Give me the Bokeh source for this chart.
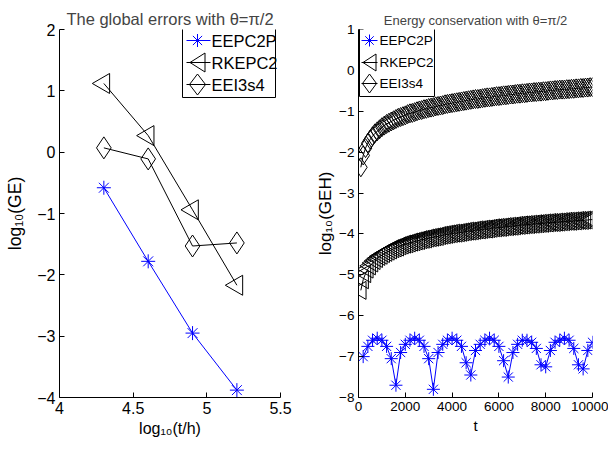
import math
from bokeh.plotting import figure
from bokeh.layouts import row
from bokeh.models import FixedTicker, Range1d, BoxAnnotation, PolyAnnotation, Label
from bokeh.embed import file_html
from bokeh.resources import INLINE

# ---------------- data: left panel ----------------
log_t_h = [4.301, 4.602, 4.903, 5.204]
ge_eepc2p = [-0.58, -1.78, -2.95, -3.88]
ge_rkepc2 = [1.12, 0.27, -0.94, -2.17]
ge_eei3s4 = [0.07, -0.11, -1.53, -1.48]

left_xticks = [4, 4.5, 5, 5.5]
left_xlabels = ["4", "4.5", "5", "5.5"]
left_yticks = [-4, -3, -2, -1, 0, 1, 2]
left_ylabels = ["\u22124", "\u22123", "\u22122", "\u22121", "0", "1", "2"]

# ---------------- data: right panel ----------------
t_eepc2p = list(range(200, 10001, 200))
geh_eepc2p = [-7.00, -6.75, -6.60, -6.55, -6.60, -6.75, -7.05, -7.70,
              -6.90, -6.70, -6.60, -6.55, -6.60, -6.75, -7.05, -7.80,
              -6.90, -6.70, -6.60, -6.55, -6.60, -6.75, -7.15, -7.45,
              -6.85, -6.70, -6.60, -6.55, -6.60, -6.75, -7.10, -7.50,
              -6.90, -6.70, -6.60, -6.60, -6.65, -6.80, -7.20, -7.25,
              -6.85, -6.65, -6.60, -6.55, -6.60, -6.80, -7.20, -7.30,
              -6.85, -6.65]

t_dense = list(range(100, 10001, 100))
geh_rkepc2 = [-5.38, -5.12, -4.97, -4.86, -4.78, -4.71, -4.65, -4.60, -4.55, -4.52,
              -4.48, -4.45, -4.42, -4.39, -4.36, -4.34, -4.32, -4.29, -4.27, -4.25,
              -4.24, -4.22, -4.20, -4.19, -4.17, -4.16, -4.14, -4.13, -4.12, -4.10,
              -4.09, -4.08, -4.07, -4.06, -4.04, -4.03, -4.02, -4.01, -4.00, -3.99,
              -3.98, -3.98, -3.97, -3.96, -3.95, -3.94, -3.93, -3.93, -3.92, -3.91,
              -3.90, -3.90, -3.89, -3.88, -3.88, -3.87, -3.86, -3.85, -3.85, -3.84,
              -3.84, -3.83, -3.82, -3.82, -3.81, -3.81, -3.80, -3.79, -3.79, -3.78,
              -3.78, -3.77, -3.77, -3.76, -3.76, -3.75, -3.75, -3.74, -3.74, -3.73,
              -3.73, -3.72, -3.72, -3.72, -3.71, -3.71, -3.70, -3.70, -3.69, -3.69,
              -3.69, -3.68, -3.68, -3.67, -3.67, -3.67, -3.66, -3.66, -3.65, -3.65]
geh_eei3s4 = [-2.37, -2.08, -1.90, -1.78, -1.69, -1.61, -1.54, -1.49, -1.44, -1.39,
              -1.35, -1.31, -1.28, -1.25, -1.22, -1.19, -1.16, -1.14, -1.12, -1.10,
              -1.07, -1.05, -1.04, -1.02, -1.00, -0.98, -0.97, -0.95, -0.94, -0.92,
              -0.91, -0.90, -0.88, -0.87, -0.86, -0.85, -0.83, -0.82, -0.81, -0.80,
              -0.79, -0.78, -0.77, -0.76, -0.75, -0.74, -0.73, -0.72, -0.71, -0.70,
              -0.70, -0.69, -0.68, -0.67, -0.66, -0.66, -0.65, -0.64, -0.63, -0.63,
              -0.62, -0.61, -0.61, -0.60, -0.59, -0.59, -0.58, -0.57, -0.57, -0.56,
              -0.56, -0.55, -0.54, -0.54, -0.53, -0.53, -0.52, -0.52, -0.51, -0.51,
              -0.50, -0.49, -0.49, -0.48, -0.48, -0.47, -0.47, -0.47, -0.46, -0.46,
              -0.45, -0.45, -0.44, -0.44, -0.43, -0.43, -0.42, -0.42, -0.41, -0.41]

right_xticks = [0, 2000, 4000, 6000, 8000, 10000]
right_xlabels = ["0", "2000", "4000", "6000", "8000", "10000"]
right_yticks = [-8, -7, -6, -5, -4, -3, -2, -1, 0, 1]
right_ylabels = ["\u22128", "\u22127", "\u22126", "\u22125", "\u22124", "\u22123",
                 "\u22122", "\u22121", "0", "1"]

series_names = ["EEPC2P", "RKEPC2", "EEI3s4"]

BLUE = "#0000ff"
FONT = "Liberation Sans"


def style_axes(p, tick_size, xlabel_size, ylabel_size, xticks, xlabels, yticks, ylabels,
               ylabel_standoff):
    p.xaxis.ticker = FixedTicker(ticks=xticks)
    p.yaxis.ticker = FixedTicker(ticks=yticks)
    p.xaxis.major_label_overrides = {float(k): v for k, v in zip(xticks, xlabels)}
    p.yaxis.major_label_overrides = {float(k): v for k, v in zip(yticks, ylabels)}
    for ax in (p.xaxis[0], p.yaxis[0]):
        ax.major_tick_in = 5
        ax.major_tick_out = 0
        ax.minor_tick_line_color = None
        ax.axis_line_color = "black"
        ax.major_tick_line_color = "black"
        ax.major_label_text_font = FONT
        ax.major_label_text_font_size = tick_size
        ax.major_label_text_color = "black"
        ax.axis_label_text_font = FONT
        ax.axis_label_text_font_style = "normal"
        ax.axis_label_text_color = "black"
        ax.major_label_standoff = 4
    p.xaxis[0].axis_label_text_font_size = xlabel_size
    p.yaxis[0].axis_label_text_font_size = ylabel_size
    p.xaxis[0].axis_label_standoff = 3
    p.yaxis[0].axis_label_standoff = ylabel_standoff
    p.grid.visible = False
    p.outline_line_color = None
    p.background_fill_color = "white"
    p.border_fill_color = "white"


def marker_shapes(kind, w, h):
    """pixel-offset polylines for a legend symbol"""
    if kind == "asterisk":
        r = w / 2.0
        d = r * 0.707
        return [[(-r, 0), (r, 0)], [(0, -r), (0, r)], [(-d, -d), (d, d)], [(-d, d), (d, -d)]]
    if kind == "left_triangle":
        return [[(-w / 2.0, 0), (w / 2.0, -h / 2.0), (w / 2.0, h / 2.0)]]
    if kind == "diamond":
        return [[(0, -h / 2.0), (w / 2.0, 0), (0, h / 2.0), (-w / 2.0, 0)]]
    return []


def add_legend(p, fw, fh, box, rows, line_x, glyph_cx, text_x, font_size, entries):
    xr, yr = p.x_range, p.y_range
    fx = lambda dx: xr.start + dx * (xr.end - xr.start) / fw
    fy = lambda dy: yr.end - dy * (yr.end - yr.start) / fh
    p.add_layout(BoxAnnotation(left=fx(box[0]), right=fx(box[1]), top=fy(box[2]),
                               bottom=fy(box[3]), fill_color="white", fill_alpha=1,
                               line_color="black", line_width=1, line_alpha=1))
    for (name, color, kind, w, h), cy in zip(entries, rows):
        p.add_layout(PolyAnnotation(xs=[fx(line_x[0]), fx(line_x[1])], ys=[fy(cy), fy(cy)],
                                    line_color=color, line_width=1, line_alpha=1,
                                    fill_alpha=0))
        for poly in marker_shapes(kind, w, h):
            p.add_layout(PolyAnnotation(xs=[fx(glyph_cx + a) for a, b in poly],
                                        ys=[fy(cy + b) for a, b in poly],
                                        line_color=color, line_width=1, line_alpha=1,
                                        fill_alpha=0))
        p.add_layout(Label(x=fx(text_x), y=fy(cy), text=name, text_font=FONT,
                           text_font_size=font_size, text_baseline="middle",
                           text_align="left", text_color="black"))


# ---------------- left figure ----------------
FW1, FH1 = 221, 368
p1 = figure(frame_width=FW1, frame_height=FH1,
            min_border_left=59, min_border_right=20,
            min_border_top=29, min_border_bottom=46,
            x_range=Range1d(4, 5.5), y_range=Range1d(-4, 2),
            output_backend="svg", toolbar_location=None)
p1.title.text = "The global errors with \u03b8=\u03c0/2"
p1.title.align = "center"
p1.title.vertical_align = "top"
p1.title.text_font = FONT
p1.title.text_font_size = "16.5px"
p1.title.text_font_style = "normal"
p1.title.standoff = 0
p1.xaxis.axis_label = "log\u2081\u2080(t/h)"
p1.yaxis.axis_label = "log\u2081\u2080(GE)"
style_axes(p1, "16px", "16px", "17.5px", left_xticks, left_xlabels, left_yticks,
           left_ylabels, 9)

p1.line(log_t_h, ge_eepc2p, line_color=BLUE, line_width=1)
p1.scatter(log_t_h, ge_eepc2p, marker="asterisk", size=14, line_color=BLUE, line_width=1)
p1.line(log_t_h, ge_rkepc2, line_color="black", line_width=1)
p1.scatter(log_t_h, ge_rkepc2, marker="triangle", angle=math.pi / 2, size=20,
           line_color="black", fill_alpha=0, line_width=1)
p1.line(log_t_h, ge_eei3s4, line_color="black", line_width=1)
p1.scatter(log_t_h, ge_eei3s4, marker="diamond", size=22, line_color="black",
           fill_alpha=0, line_width=1)

add_legend(p1, FW1, FH1, box=(123, 216, -1, 68), rows=(11, 33, 55),
           line_x=(127, 151), glyph_cx=138, text_x=152, font_size="16.5px",
           entries=[(series_names[0], BLUE, "asterisk", 13, 13),
                    (series_names[1], "black", "left_triangle", 15, 19),
                    (series_names[2], "black", "diamond", 16, 21)])

# ---------------- right figure ----------------
FW2, FH2 = 234, 368
p2 = figure(frame_width=FW2, frame_height=FH2,
            min_border_left=58, min_border_right=16,
            min_border_top=29, min_border_bottom=46,
            x_range=Range1d(0, 10000), y_range=Range1d(-8, 1),
            output_backend="svg", toolbar_location=None)
p2.title.text = "Energy conservation with \u03b8=\u03c0/2"
p2.title.align = "center"
p2.title.vertical_align = "top"
p2.title.text_font = FONT
p2.title.text_font_size = "13px"
p2.title.text_font_style = "normal"
p2.title.standoff = 0
p2.xaxis.axis_label = "t"
p2.yaxis.axis_label = "log\u2081\u2080(GEH)"
style_axes(p2, "13.5px", "15px", "17px", right_xticks, right_xlabels, right_yticks,
           right_ylabels, 1)

p2.line(t_eepc2p, geh_eepc2p, line_color=BLUE, line_width=1)
p2.scatter(t_eepc2p, geh_eepc2p, marker="asterisk", size=13, line_color=BLUE, line_width=1)
p2.line(t_dense, geh_rkepc2, line_color="black", line_width=1)
p2.scatter(t_dense, geh_rkepc2, marker="triangle", angle=math.pi / 2, size=18,
           line_color="black", fill_alpha=0, line_width=1)
p2.line(t_dense, geh_eei3s4, line_color="black", line_width=1)
p2.scatter(t_dense, geh_eei3s4, marker="diamond", size=19, line_color="black",
           fill_alpha=0, line_width=1)

add_legend(p2, FW2, FH2, box=(1, 76, -1, 67), rows=(11, 33, 54),
           line_x=(3, 19), glyph_cx=11, text_x=21, font_size="13.5px",
           entries=[(series_names[0], BLUE, "asterisk", 12, 12),
                    (series_names[1], "black", "left_triangle", 13, 17),
                    (series_names[2], "black", "diamond", 14, 19)])

layout = row(p1, p2)
open("out.html", "w").write(file_html(layout, INLINE))
